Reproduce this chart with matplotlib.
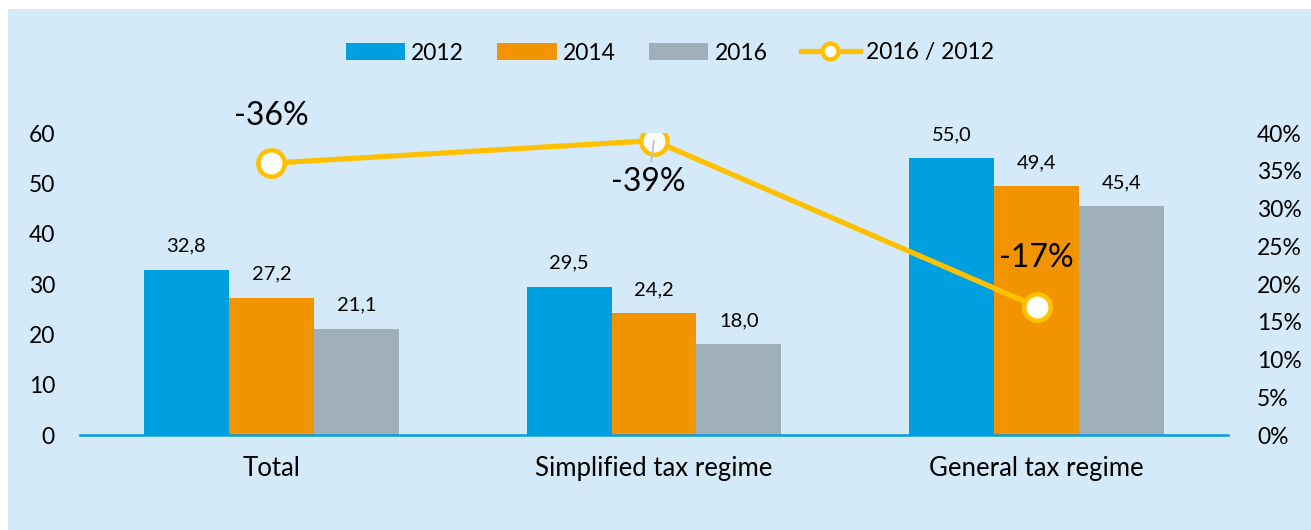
import numpy as np
import matplotlib.pyplot as plt
from matplotlib.patches import Rectangle

plt.rcParams['font.family'] = ['Lato', 'DejaVu Sans']

categories = ["Total", "Simplified tax regime", "General tax regime"]
years = ["2012", "2014", "2016"]
v2012 = [32.8, 29.5, 55.0]
v2014 = [27.2, 24.2, 49.4]
v2016 = [21.1, 18.0, 45.4]
ratio = [36, 39, 17]          # 2016 / 2012, %
ratio_labels = ["-36%", "-39%", "-17%"]

colors = ["#009FE0", "#F29400", "#9FB0BA"]
line_color = "#FFC000"
bg = "#D5EAF8"

fig = plt.figure(figsize=(13.11, 5.30), dpi=100)
fig.patches.append(Rectangle((8 / 1311, 0), 1, 1 - 9 / 530, transform=fig.transFigure,
                             facecolor=bg, edgecolor="none", zorder=-10))
ax = fig.add_axes([80 / 1311, 1 - 435 / 530, 1148 / 1311, 302 / 530])
ax.set_facecolor("none")

x = np.arange(len(categories))
w = 0.222
series = [v2012, v2014, v2016]
for i, (vals, c, lab) in enumerate(zip(series, colors, years)):
    pos = x + (i - 1) * w
    ax.bar(pos, vals, width=w, color=c, label=lab, zorder=2)
    for p, v in zip(pos, vals):
        ax.annotate(f"{v:.1f}".replace(".", ","), (p, v), xytext=(0, 11),
                    textcoords="offset points", ha="center", va="bottom", fontsize=14.5)

ax.set_xlim(-0.5, 2.5)
ax.set_ylim(0, 60)
ax.set_yticks(range(0, 61, 10))
ax.set_xticks(x)
ax.set_xticklabels(categories, fontsize=18.5)
ax.tick_params(axis="y", labelsize=16.5, length=0, pad=18)
ax.tick_params(axis="x", length=0, pad=15)
for s in ["top", "right", "left"]:
    ax.spines[s].set_visible(False)
ax.spines["bottom"].set_color("#009FE0")
ax.spines["bottom"].set_linewidth(1.8)

ax2 = ax.twinx()
ax2.set_ylim(0, 0.40)
ax2.set_yticks(np.arange(0, 0.41, 0.05))
ax2.set_yticklabels([f"{int(round(t * 100))}%" for t in np.arange(0, 0.41, 0.05)])
ax2.tick_params(axis="y", labelsize=16.5, length=0, pad=21)
for s in ax2.spines.values():
    s.set_visible(False)

r = np.array(ratio) / 100
ax2.plot(x, r, color=line_color, lw=3.8, marker="o", ms=19, mfc="white",
         mec=line_color, mew=3.2, label="2016 / 2012", zorder=5)
offsets = [(0, 34), (-4, -30), (0, 35)]
for xi, ri, lab, off in zip(x, r, ratio_labels, offsets):
    arrow = None
    if off[1] < 0:
        arrow = dict(arrowstyle="-", color="#BFBFBF", lw=1.3, shrinkA=2, shrinkB=0)
    ax2.annotate(lab, (xi, ri), xytext=off, textcoords="offset points",
                 ha="center", va="center", fontsize=23, arrowprops=arrow, zorder=6)

h1, l1 = ax.get_legend_handles_labels()
h2, l2 = ax2.get_legend_handles_labels()
fig.legend(h1 + h2, l1 + l2, loc="center", bbox_to_anchor=(670 / 1311, 1 - 53 / 530),
           ncol=4, frameon=False, fontsize=16.5, handlelength=2.6, handleheight=0.7,
           handletextpad=0.27, columnspacing=1.44, markerscale=0.6)

fig.savefig("out.png", dpi=100)
